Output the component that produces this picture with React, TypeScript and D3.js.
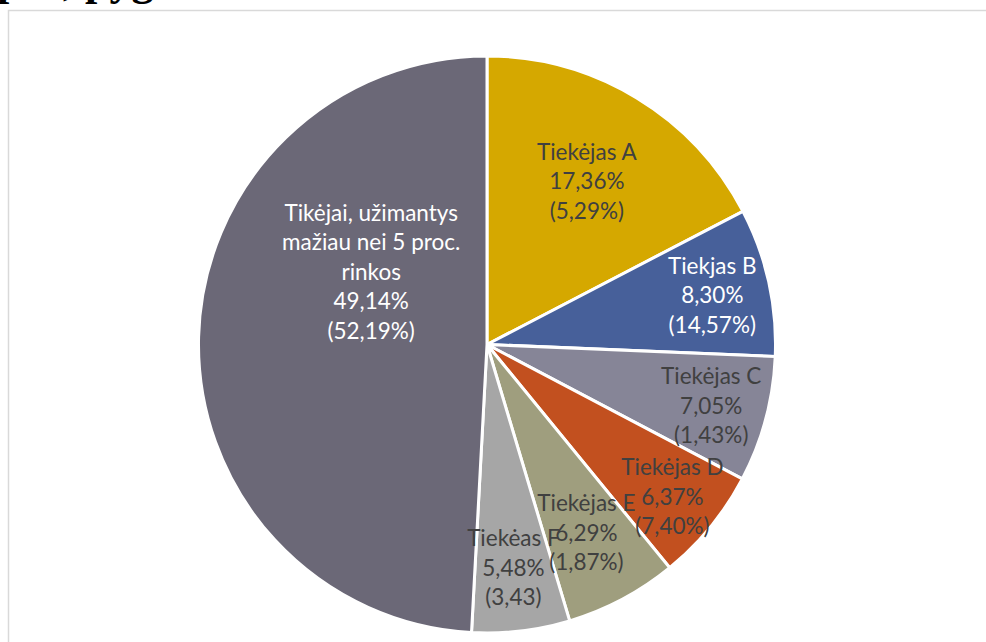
import React from "react";
import * as d3 from "d3";

// slices, clockwise from 12 o'clock
const names = [
  "Tiekėjas A",
  "Tiekjas B",
  "Tiekėjas C",
  "Tiekėjas D",
  "Tiekėjas E",
  "Tiekėas F",
  "Tikėjai, užimantys mažiau nei 5 proc. rinkos",
];
const shares = [17.36, 8.3, 7.05, 6.37, 6.29, 5.48, 49.14];
const secondLabels = ["(5,29%)", "(14,57%)", "(1,43%)", "(7,40%)", "(1,87%)", "(3,43)", "(52,19%)"];
const colors = ["#D5A800", "#47609A", "#868597", "#C2501F", "#9F9E7E", "#A6A6A6", "#6B6877"];
const labelColors = ["#404040", "#FFFFFF", "#404040", "#404040", "#404040", "#404040", "#FFFFFF"];

// label placement (excel "best fit"): radius fraction, optional angle override
const labelRadius = [0.667, 0.8, 0.805, 0.83, 0.735, 0.775, 0.476];
const labelAngle: (number | null)[] = [null, null, null, null, null, null, 302.5];
// long name is wrapped into lines like excel does
const nameLines = [
  ["Tiekėjas A"],
  ["Tiekjas B"],
  ["Tiekėjas C"],
  ["Tiekėjas D"],
  ["Tiekėjas E"],
  ["Tiekėas F"],
  ["Tikėjai, užimantys", "mažiau nei 5 proc.", "rinkos"],
];

const fmt = (v: number) => v.toFixed(2).replace(".", ",") + "%";

export default function App() {
  const width = 986;
  const height = 642;
  const cx = 487;
  const cy = 344.5;
  const r = 288.5;
  const lineH = 29.5;

  const pie = d3
    .pie<number>()
    .sort(null)
    .value((d) => d);
  const arcs = pie(shares);
  const arc = d3.arc<d3.PieArcDatum<number>>().innerRadius(0).outerRadius(r);

  return (
    <svg
      width={width}
      height={height}
      style={{ position: "absolute", left: 0, top: 0, background: "#fff" }}
    >
      {/* title cut off at the top of the page, only descenders show */}
      <text
        x={-3}
        y={-5}
        fontFamily="Liberation Serif, Times New Roman, serif"
        fontWeight="bold"
        fontSize={44}
        fill="#000"
      >
        pus, pyg
      </text>
      {/* chart area frame */}
      <rect x={8.5} y={10.5} width={width + 20} height={height + 20} fill="#fff" stroke="#D9D9D9" strokeWidth={1.5} />

      <g transform={`translate(${cx},${cy})`}>
        {arcs.map((a, i) => (
          <path key={names[i]} d={arc(a) ?? ""} fill={colors[i]} stroke="#fff" strokeWidth={3} strokeLinejoin="round" />
        ))}
        {arcs.map((a, i) => {
          const mid = labelAngle[i] != null ? (labelAngle[i]! * Math.PI) / 180 : (a.startAngle + a.endAngle) / 2;
          const rr = labelRadius[i] * r;
          const lx = rr * Math.sin(mid);
          const ly = -rr * Math.cos(mid);
          const lines = [...nameLines[i], fmt(shares[i]), secondLabels[i]];
          const y0 = ly - ((lines.length - 1) / 2) * lineH;
          return (
            <text
              key={`lbl-${i}`}
              textAnchor="middle"
              dominantBaseline="central"
              fontFamily="Lato, 'Open Sans', sans-serif"
              fontSize={22.5}
              fill={labelColors[i]}
            >
              {lines.map((t, j) => (
                <tspan key={j} x={lx} y={y0 + j * lineH}>
                  {t}
                </tspan>
              ))}
            </text>
          );
        })}
      </g>
    </svg>
  );
}
